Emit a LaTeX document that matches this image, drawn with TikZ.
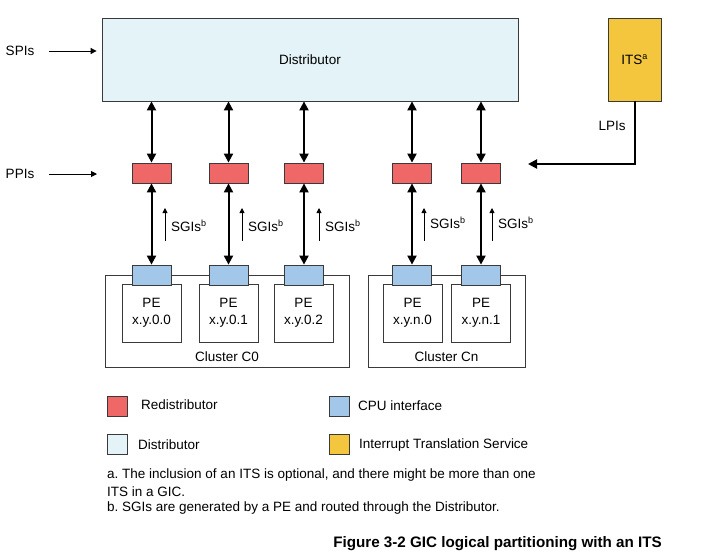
\documentclass[tikz,border=0pt]{standalone}
\usepackage{fontspec}
\setmainfont{Liberation Sans}
\usetikzlibrary{arrows.meta}
\definecolor{redist}{HTML}{F06767}
\definecolor{cpuif}{HTML}{A3C7E9}
\definecolor{distc}{HTML}{E4F3F7}
\definecolor{itsc}{HTML}{F4C63E}
\definecolor{edge}{HTML}{3A3A3A}
\tikzset{
  box/.style={draw=edge, line width=0.8pt, inner sep=0pt, align=center},
  rbox/.style={box, fill=redist, minimum width=39pt, minimum height=20pt},
  cbox/.style={box, fill=cpuif, minimum width=39pt, minimum height=20pt},
  pebox/.style={box, fill=white, minimum width=59pt, minimum height=58pt},
  cluster/.style={draw=edge, line width=0.6pt},
  legbox/.style={box, minimum width=20pt, minimum height=20pt},
  bigarrow/.style={line width=2pt, {Triangle[length=9pt,width=9pt]}-{Triangle[length=9pt,width=9pt]}},
  onearrow/.style={line width=2pt, -{Triangle[length=9pt,width=9pt]}},
  thinarrow/.style={line width=0.9pt, -{Triangle[length=6pt,width=6pt]}},
  sgiarrow/.style={line width=0.8pt, -{Triangle[length=5pt,width=5pt]}},
  lbl/.style={inner sep=0pt},
}
\newcommand{\supsmall}[1]{\textsuperscript{\fontsize{9}{9}\selectfont #1}}
\begin{document}
\frenchspacing
\begin{tikzpicture}[x=1pt,y=-1pt,font=\fontsize{13.5}{17}\selectfont]
\useasboundingbox (0,0) rectangle (717,558);

% Distributor and ITS
\node[box, fill=distc, minimum width=416pt, minimum height=83pt] (dist) at (310,59.5) {Distributor};
\node[box, fill=itsc, minimum width=53pt, minimum height=83pt] (its) at (634.5,59.5) {ITS\supsmall{a}};

% input labels
\node[lbl] (spi) at (20,51) {SPIs};
\draw[thinarrow, shorten >=5pt] ([xshift=15pt]spi.east) -- (spi.east -| dist.west);
\node[lbl] (ppi) at (20,174) {PPIs};
\coordinate (ppiend) at (97,174);
\draw[thinarrow] ([xshift=15pt]ppi.east) -- (ppiend);

% clusters
\draw[cluster] (105,275) rectangle (349,367);
\draw[cluster] (368,275) rectangle (525,367);
\node[lbl] (c0lbl) at (227,357) {Cluster C0};
\node[lbl] (cnlbl) at (446.5,357) {Cluster Cn};

% redistributors, CPU interfaces, PEs
\foreach \i/\x/\px/\name in {1/151.5/151.5/x.y.0.0, 2/228.5/228.5/x.y.0.1, 3/304/303.5/x.y.0.2, 4/412/412.5/x.y.n.0, 5/481/481/x.y.n.1}{
  \node[pebox] (p\i) at (\px,313) {PE\\\name};
  \node[rbox] (r\i) at (\x,173) {};
  \node[cbox] (c\i) at (\x,275) {};
  \draw[bigarrow] (r\i.north) -- (r\i.north |- dist.south);
  \draw[bigarrow] (r\i.south) -- (c\i.north);
}

% SGI arrows
\foreach \i/\x/\ly in {1/165/226, 2/242/226, 3/319/226, 4/424/223, 5/492/223}{
  \coordinate (s\i a) at (\x,241);
  \coordinate (s\i b) at (\x,208);
  \draw[sgiarrow] (s\i a) -- (s\i b);
  \node[lbl, anchor=west] (sg\i) at (\x+6,\ly) {SGIs\supsmall{b}};
}

% LPIs
\coordinate (lpiend) at (528,164);
\draw[onearrow] (its.south) |- (lpiend);
\node[lbl] (lpi) at (612,126) {LPIs};

% legend
\node[legbox, fill=redist] (lg1) at (117,406) {};
\node[lbl, anchor=west] (lt1) at (141,405) {Redistributor};
\node[legbox, fill=cpuif] (lg2) at (339,406) {};
\node[lbl, anchor=west] (lt2) at (358,406) {CPU interface};
\node[legbox, fill=distc] (lg3) at (117,444) {};
\node[lbl, anchor=west] (lt3) at (138,445) {Distributor};
\node[legbox, fill=itsc] (lg4) at (339,444) {};
\node[lbl, anchor=west] (lt4) at (359,445) {Interrupt Translation Service};

% footnotes
\node[lbl, anchor=west] (fa) at (107,475) {a. The inclusion of an ITS is optional, and there might be more than one};
\node[lbl, anchor=west] (fa2) at (107,492) {ITS in a GIC.};
\node[lbl, anchor=west] (fb) at (107,507.5) {b. SGIs are generated by a PE and routed through the Distributor.};

% caption
\node[lbl, anchor=east, font=\fontsize{15.2}{18}\selectfont\bfseries] (cap) at (662,543.5) {Figure 3-2 GIC logical partitioning with an ITS};
\end{tikzpicture}
\end{document}
